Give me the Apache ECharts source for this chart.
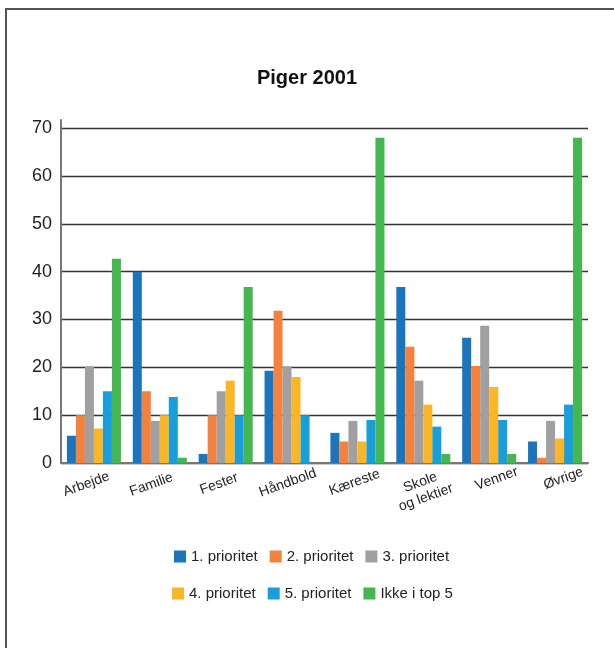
<!DOCTYPE html>
<html>
<head>
<meta charset="utf-8">
<script src="https://cdn.jsdelivr.net/npm/echarts@6/dist/echarts.min.js"></script>
<style>
  html, body { margin: 0; padding: 0; background: #fff; }
  #chart { width: 614px; height: 648px; }
</style>
</head>
<body>
<div id="chart"></div>
<script>
// Piger 2001: share of girls naming each activity by priority
const categories = ['Arbejde', 'Familie', 'Fester', 'Håndbold', 'Kæreste', 'Skole\nog lektier', 'Venner', 'Øvrige'];
const prio1 = [5.7, 40, 1.9, 19.3, 6.3, 36.8, 26.2, 4.5];
const prio2 = [10, 15, 10, 31.8, 4.5, 24.3, 20.3, 1.1];
const prio3 = [20.2, 8.8, 15, 20.2, 8.8, 17.2, 28.7, 8.8];
const prio4 = [7.2, 10, 17.2, 18, 4.5, 12.2, 15.9, 5.1];
const prio5 = [15, 13.8, 10, 10, 9, 7.6, 9, 12.2];
const notTop5 = [42.7, 1.1, 36.8, 0, 68, 1.9, 1.9, 68];
const seriesNames = ['1. prioritet', '2. prioritet', '3. prioritet', '4. prioritet', '5. prioritet', 'Ikke i top 5'];
const yTicks = [0, 10, 20, 30, 40, 50, 60, 70];

const colors = ['#1b75bc', '#f5823c', '#a0a0a2', '#fbb626', '#189fdb', '#45b74f'];
const seriesData = [prio1, prio2, prio3, prio4, prio5, notTop5];
const FONT = '"Liberation Sans Narrow", "Liberation Sans", Arial, sans-serif';

// horizontal nudge (px along the text) for each category label
const labelShift = [-11, -12, -10, -7, -6, -6, 5, 6];
const labelRich = {};
labelShift.forEach((s, i) => {
  labelRich['c' + i] = {
    fontFamily: FONT, fontSize: 14, color: '#222', lineHeight: 16,
    padding: s < 0 ? [0, -2 * s, 0, 0] : [0, 0, 0, 2 * s]
  };
});

const chart = echarts.init(document.getElementById('chart'), null, { renderer: 'canvas' });

const legendText = { fontFamily: FONT, fontSize: 15, color: '#222' };

chart.setOption({
  animation: false,
  backgroundColor: '#fff',
  graphic: [{
    type: 'rect',
    shape: { x: 6, y: 9, width: 700, height: 700 },
    style: { fill: 'none', stroke: '#555', lineWidth: 2 },
    silent: true
  }],
  title: {
    text: 'Piger 2001',
    left: 'center',
    top: 63,
    textStyle: { fontFamily: FONT, fontSize: 20, fontWeight: 'bold', color: '#111' }
  },
  legend: [{
    data: seriesNames.slice(0, 3),
    left: 169, top: 544,
    itemWidth: 12, itemHeight: 12, itemGap: 12,
    icon: 'rect',
    textStyle: legendText
  }, {
    data: seriesNames.slice(3),
    left: 167, top: 581,
    itemWidth: 12, itemHeight: 12, itemGap: 12,
    icon: 'rect',
    textStyle: legendText
  }],
  grid: { left: 61, right: 26, top: 120, bottom: 185, containLabel: false },
  xAxis: {
    type: 'category',
    data: categories,
    axisLine: { lineStyle: { color: '#777', width: 2 } },
    axisTick: { show: false },
    axisLabel: {
      rotate: 20,
      interval: 0,
      margin: 10,
      align: 'center',
      verticalAlign: 'top',
      formatter: (v, i) => v.split('\n').map(line => '{c' + i + '|' + line + '}').join('\n'),
      rich: labelRich,
      fontFamily: FONT,
      fontSize: 14,
      color: '#222'
    }
  },
  yAxis: {
    type: 'value',
    min: yTicks[0],
    max: 71.7,
    interval: 10,
    axisLine: { show: true, lineStyle: { color: '#777', width: 2 } },
    axisTick: { show: false },
    axisLabel: {
      showMaxLabel: false,
      formatter: v => (yTicks.indexOf(v) >= 0 ? String(v) : ''),
      margin: 9,
      fontFamily: FONT,
      fontSize: 18,
      color: '#222'
    },
    splitLine: {
      show: true,
      lineStyle: {
        color: ['#333', '#333', '#333', '#333', '#333', '#333', '#333', '#333', 'rgba(0,0,0,0)'],
        width: 1.3
      }
    }
  },
  series: seriesNames.map((name, i) => ({
    name: name,
    type: 'bar',
    data: seriesData[i],
    barGap: '0%',
    barCategoryGap: '18%',
    itemStyle: { color: colors[i] }
  }))
});
</script>
</body>
</html>
